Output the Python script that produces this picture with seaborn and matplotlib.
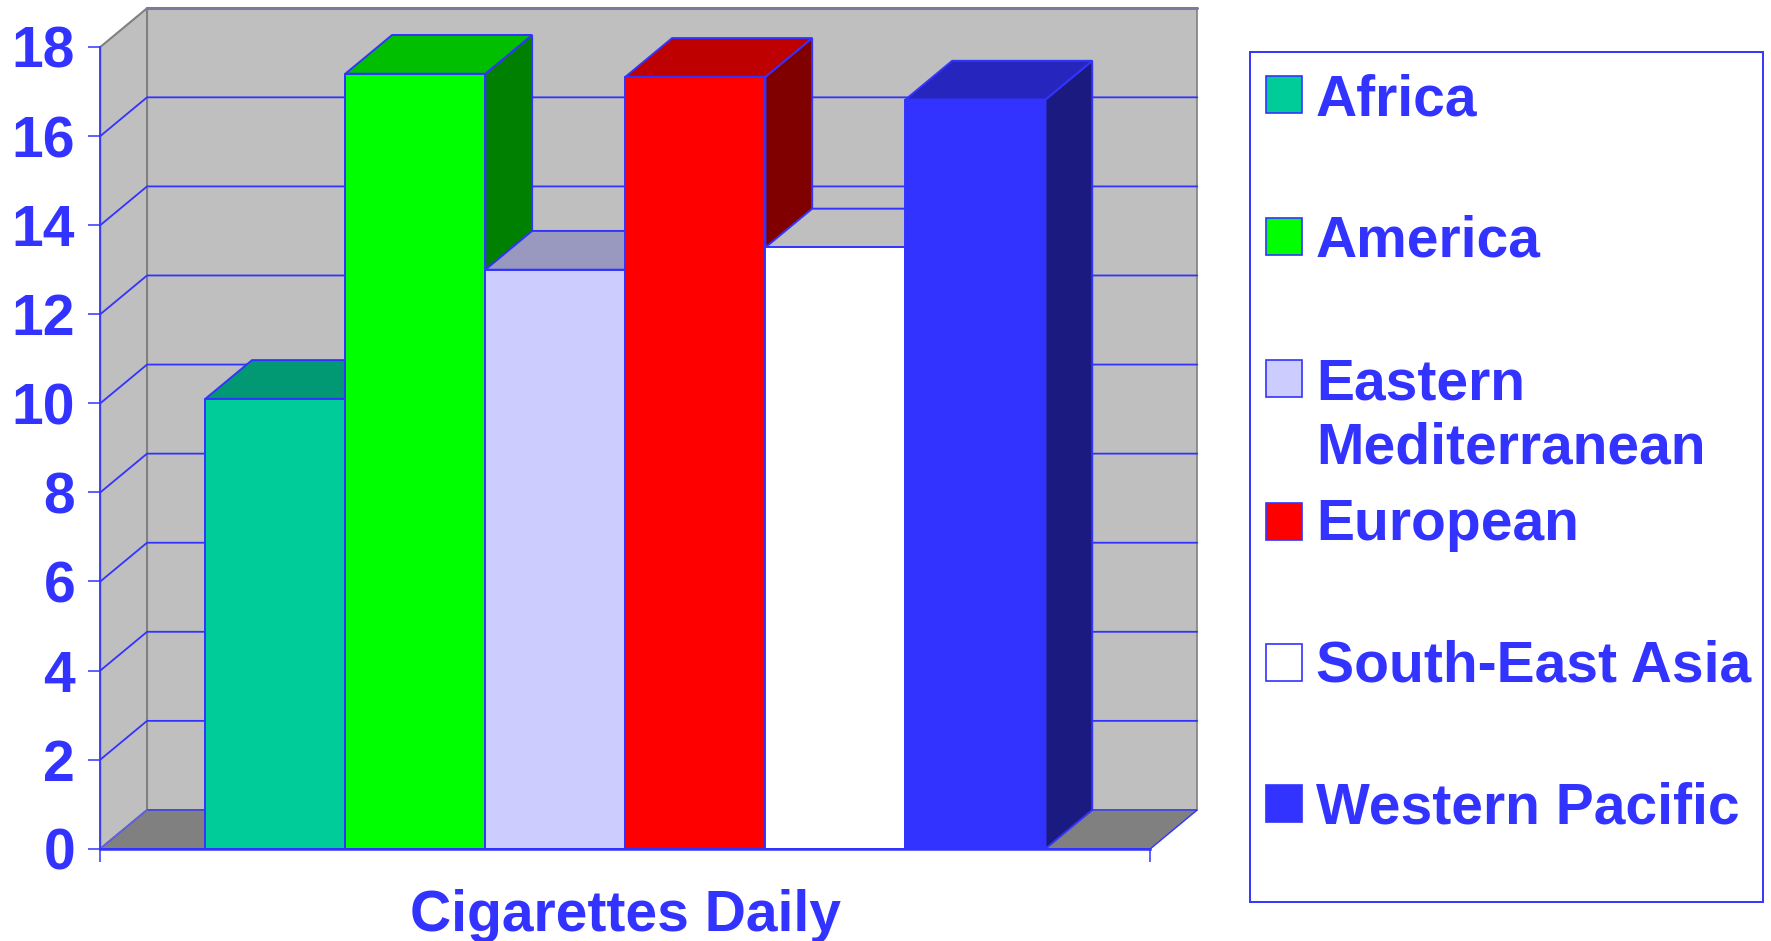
import matplotlib
matplotlib.use("Agg")
import matplotlib.pyplot as plt
import pandas as pd
import seaborn as sns
from matplotlib.colors import to_rgb
from matplotlib.patches import Polygon, Rectangle

# --- DATA ---
regions = ["Africa", "America", "Eastern Mediterranean", "European",
           "South-East Asia", "Western Pacific"]
cigarettes = [10.1, 17.4, 13.0, 17.33, 13.5, 16.82]
category = ["Cigarettes Daily"] * 6
colors = ["#00CC99", "#00FF00", "#CCCCFF", "#FF0000", "#FFFFFF", "#3333FF"]
legend_labels = ["Africa", "America", "Eastern\nMediterranean", "European",
                 "South-East Asia", "Western Pacific"]
y_ticks = list(range(0, 19, 2))

BLUE = "#3333FF"
WIDTH, HEIGHT = 1771, 941
DEPTH_X = 0.0445   # depth of the fake 3D box, in data units
DEPTH_Y = 0.87
FONT = 41


def shade(color, factor):
    return tuple(c * factor for c in to_rgb(color))


def px_rect(left, top, w, h):
    """Pixel box (from the top left) to figure fractions."""
    return left / WIDTH, 1 - (top + h) / HEIGHT, w / WIDTH, h / HEIGHT


sns.set_style("white")
plt.rcParams["font.family"] = ["Liberation Sans", "DejaVu Sans"]
plt.rcParams["font.weight"] = "bold"

fig = plt.figure(figsize=(WIDTH / 100, HEIGHT / 100), dpi=100)
ax = fig.add_axes(px_rect(100.3, 47, 1050.2, 801.7))
ax.patch.set_alpha(0)

df = pd.DataFrame({"category": category, "region": regions, "value": cigarettes})
sns.barplot(data=df, x="category", y="value", hue="region", hue_order=regions,
            palette=dict(zip(regions, colors)), saturation=1, width=0.8, gap=0,
            edgecolor=BLUE, linewidth=1.4, legend=False, ax=ax)
bars = sorted(ax.patches, key=lambda p: p.get_x())

ax.set_xlim(-0.5, 0.5)
ax.set_ylim(0, 18)
ax.set_xlabel("")
ax.set_ylabel("")
ax.set_yticks(y_ticks)

# --- WALLS AND FLOOR ---
x0, x1 = -0.5, 0.5
top = 18
ax.add_patch(Polygon([(x0, 0), (x1, 0), (x1 + DEPTH_X, DEPTH_Y), (x0 + DEPTH_X, DEPTH_Y)],
                     facecolor="#808080", edgecolor=BLUE, linewidth=1,
                     clip_on=False, zorder=0.5))
ax.add_patch(Rectangle((x0 + DEPTH_X, DEPTH_Y), x1 - x0, top, facecolor="#BFBFBF",
                       edgecolor="#808080", linewidth=1.2, clip_on=False, zorder=0.4))
ax.add_patch(Polygon([(x0, 0), (x0 + DEPTH_X, DEPTH_Y), (x0 + DEPTH_X, top + DEPTH_Y), (x0, top)],
                     facecolor="#BFBFBF", edgecolor="#808080", linewidth=1.5,
                     clip_on=False, zorder=0.45))
ax.plot([x0 + DEPTH_X, x1 + DEPTH_X], [top + DEPTH_Y] * 2, color="#7B7B9B", lw=2.2,
        clip_on=False, zorder=0.6)

for tick in y_ticks[1:-1]:
    ax.plot([x0, x0 + DEPTH_X, x1 + DEPTH_X], [tick, tick + DEPTH_Y, tick + DEPTH_Y],
            color=BLUE, lw=1.3, clip_on=False, zorder=0.7)
ax.plot([x0, x0 + DEPTH_X], [0, DEPTH_Y], color="#6666DD", lw=1, clip_on=False, zorder=0.7)

# --- 3D FACES OF THE BARS ---
for i, (bar, color) in enumerate(zip(bars, colors)):
    left, right = bar.get_x(), bar.get_x() + bar.get_width()
    h = bar.get_height()
    ax.add_patch(Polygon([(right, 0), (right + DEPTH_X, DEPTH_Y),
                          (right + DEPTH_X, h + DEPTH_Y), (right, h)],
                         facecolor=shade(color, 0.5), edgecolor=BLUE, linewidth=1.4,
                         clip_on=False, zorder=2 + 3 * i))
    ax.add_patch(Polygon([(left, h), (right, h), (right + DEPTH_X, h + DEPTH_Y),
                          (left + DEPTH_X, h + DEPTH_Y)],
                         facecolor=shade(color, 0.75), edgecolor=BLUE, linewidth=1.4,
                         clip_on=False, zorder=3 + 3 * i))
    bar.set_zorder(4 + 3 * i)

# --- AXES ---
for side in ["top", "right"]:
    ax.spines[side].set_visible(False)
for side in ["left", "bottom"]:
    ax.spines[side].set_color(BLUE)
    ax.spines[side].set_zorder(50)
ax.spines["left"].set_linewidth(1.2)
ax.spines["bottom"].set_linewidth(1.8)

ax.tick_params(axis="y", length=8.6, width=1.1, color=BLUE, labelcolor=BLUE,
               labelsize=FONT, pad=9.5, left=True)
ax.set_xticks([x0, x1], minor=True)
ax.tick_params(axis="x", which="minor", length=9.4, width=1.1, color=BLUE, bottom=True)
ax.tick_params(axis="x", which="major", length=0, labelcolor=BLUE, labelsize=FONT, pad=29)
for label in ax.get_xticklabels() + ax.get_yticklabels():
    label.set_fontweight("bold")

# --- LEGEND ---
frame = Rectangle(px_rect(1249.5, 52, 513.5, 850)[:2], 513.5 / WIDTH, 850 / HEIGHT,
                  transform=fig.transFigure, facecolor="white", edgecolor=BLUE, linewidth=1.4)
fig.add_artist(frame)
baselines = [115, 256.7, 464, 540, 681.8, 823.5]
swatches = [76, 218, 360, 503, 644, 785]
for label, color, base, sw in zip(legend_labels, colors, baselines, swatches):
    l, b, w, h = px_rect(1265.5, sw, 36, 37)
    fig.add_artist(Rectangle((l, b), w, h, transform=fig.transFigure, facecolor=color,
                             edgecolor=BLUE, linewidth=1.2))
    fig.text(1316 / WIDTH, 1 - base / HEIGHT, label, color=BLUE, fontsize=FONT,
             fontweight="bold", va="baseline", ha="left", linespacing=1.25)

plt.savefig("out.png", dpi=100)
plt.close(fig)
